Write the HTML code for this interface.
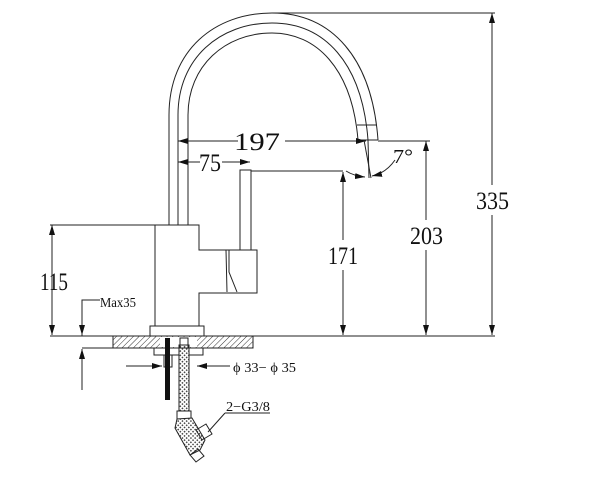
<!DOCTYPE html>
<html><head><meta charset="utf-8"><style>
html,body{margin:0;padding:0;background:#fff;}
svg{display:block}
text{font-family:"Liberation Serif",serif;fill:#111;}
</style></head><body>
<svg width="600" height="500" viewBox="0 0 600 500" xmlns="http://www.w3.org/2000/svg">
<defs>
<marker id="a" viewBox="0 0 10 6" refX="10" refY="3" markerWidth="10" markerHeight="6" orient="auto-start-reverse" markerUnits="userSpaceOnUse"><path d="M0,0L10,3L0,6z" fill="#111"/></marker>
<pattern id="h" width="4" height="4" patternUnits="userSpaceOnUse" patternTransform="rotate(45)"><line x1="0" y1="0" x2="0" y2="4" stroke="#333" stroke-width="1"/></pattern>
<pattern id="m" width="3" height="3" patternUnits="userSpaceOnUse" patternTransform="rotate(45)"><rect width="3" height="3" fill="#fff"/><rect width="1.5" height="1.5" fill="#444"/></pattern>
</defs>
<g fill="none" stroke="#222" stroke-width="1">
<path d="M169,225 L169,115 C169,50 215,13 272,13 C332,13 372,58 378,140"/>
<path d="M178,225 L178,115 C178,58 220,23 272,23 C324,23 362,62 368,140"/>
<path d="M188,225 L188,115 C188,66 225,33 272,33 C316,33 352,68 358,140"/>
<line x1="357" y1="125" x2="377" y2="125"/>
<line x1="358" y1="140" x2="378" y2="140"/>
<line x1="272" y1="13" x2="495" y2="13"/>
<path d="M155,225 L199,225 L199,250 L257,250 L257,293 L199,293 L199,326 L155,326 Z"/>
<path d="M240,250 L240,170 L251,170 L251,250"/>
<line x1="251" y1="171" x2="343" y2="171"/>
<path d="M226,250 L227,292 M229,250 L229,272 L237,292"/>
<rect x="150" y="326" width="54" height="10"/>
<line x1="50" y1="336" x2="495" y2="336"/>
<rect x="113" y="336" width="140" height="12" fill="url(#h)"/>
<rect x="160" y="337" width="37" height="10" fill="#fff" stroke="none"/>
<line x1="82" y1="348" x2="113" y2="348"/>
<rect x="154" y="348" width="49" height="7" fill="#fff"/>
<rect x="164" y="355" width="8" height="12"/>
<rect x="165" y="338" width="5" height="62" fill="#111" stroke="none"/>
<rect x="179" y="345" width="10" height="66" fill="url(#m)"/>
<rect x="180" y="338" width="8" height="10"/>
<rect x="177" y="411" width="14" height="8"/>
<path d="M177,419 L175,428 L190,455 L200,450 L205,440 L192,418 Z" fill="url(#m)"/>
<path d="M190,455 l8,-6 l6,7 l-8,6 z M196,430 l10,-6 l6,10 l-10,6 z"/>
<line x1="178" y1="141" x2="238" y2="141" marker-start="url(#a)"/>
<line x1="285" y1="141" x2="366" y2="141" marker-end="url(#a)"/>
<line x1="178" y1="162" x2="200" y2="162" marker-start="url(#a)"/>
<line x1="222" y1="162" x2="250" y2="162" marker-end="url(#a)"/>
<line x1="343" y1="172" x2="343" y2="240" marker-start="url(#a)"/>
<line x1="343" y1="270" x2="343" y2="335" marker-end="url(#a)"/>
<line x1="378" y1="141" x2="430" y2="141"/>
<line x1="426" y1="141" x2="426" y2="220" marker-start="url(#a)"/>
<line x1="426" y1="250" x2="426" y2="335" marker-end="url(#a)"/>
<line x1="492" y1="13" x2="492" y2="185" marker-start="url(#a)"/>
<line x1="492" y1="215" x2="492" y2="335" marker-end="url(#a)"/>
<line x1="50" y1="225" x2="155" y2="225"/>
<line x1="52" y1="225" x2="52" y2="335" marker-start="url(#a)" marker-end="url(#a)"/>
<path d="M100,300 L82,300 L82,336" />
<line x1="82" y1="320" x2="82" y2="335" marker-end="url(#a)"/>
<line x1="82" y1="390" x2="82" y2="349" marker-end="url(#a)"/>
<line x1="126" y1="366" x2="162" y2="366" marker-end="url(#a)"/>
<line x1="230" y1="366" x2="197" y2="366" marker-end="url(#a)"/>
<line x1="368" y1="140" x2="369" y2="178"/>
<line x1="364" y1="140" x2="371" y2="178"/>
<path d="M346,171 Q354,176 365,177" marker-end="url(#a)"/>
<path d="M395,160 Q386,173 372,176" marker-end="url(#a)"/>
<path d="M225,413 L270,413 M225,413 L208,432"/>
</g>
<g font-size="25">
<text x="234" y="150" textLength="46" lengthAdjust="spacingAndGlyphs">197</text>
<text x="199" y="171" textLength="22" lengthAdjust="spacingAndGlyphs">75</text>
<text x="328" y="264" textLength="30" lengthAdjust="spacingAndGlyphs">171</text>
<text x="410" y="244" textLength="33" lengthAdjust="spacingAndGlyphs">203</text>
<text x="476" y="209" textLength="33" lengthAdjust="spacingAndGlyphs">335</text>
<text x="40" y="290" textLength="28" lengthAdjust="spacingAndGlyphs">115</text>
<text x="393" y="163" font-size="20" textLength="20" lengthAdjust="spacingAndGlyphs">7°</text>
</g>
<g font-size="14">
<text x="100" y="307" textLength="36" lengthAdjust="spacingAndGlyphs">Max35</text>
<text x="233" y="372" textLength="63" lengthAdjust="spacingAndGlyphs">ϕ 33− ϕ 35</text>
<text x="226" y="411" textLength="44" lengthAdjust="spacingAndGlyphs">2−G3/8</text>
</g>
</svg>
</body></html>
